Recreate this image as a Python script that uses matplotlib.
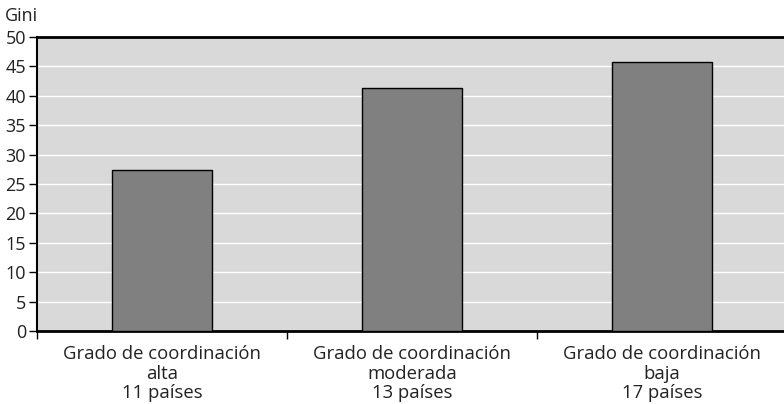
import matplotlib.pyplot as plt
from matplotlib.ticker import FixedLocator, MultipleLocator

categorias = ["Grado de coordinación\nalta\n11 países",
              "Grado de coordinación\nmoderada\n13 países",
              "Grado de coordinación\nbaja\n17 países"]
gini = [27.4, 41.4, 45.7]

plt.rcParams['font.family'] = ['Open Sans', 'DejaVu Sans']

fig = plt.figure(figsize=(7.84, 4.04), dpi=100)
# axes run slightly past the right edge of the canvas
ax = fig.add_axes([37 / 784, 1 - 331 / 404, 750 / 784, 294 / 404])

ax.set_facecolor('#d9d9d9')
ax.bar(range(len(gini)), gini, width=0.4, color='#808080',
       edgecolor='black', linewidth=1, zorder=3)

ax.set_xlim(-0.5, 2.5)
ax.set_ylim(0, 50)
ax.yaxis.set_major_locator(MultipleLocator(5))
ax.grid(axis='y', color='white', linewidth=1, zorder=1)

ax.xaxis.set_major_locator(FixedLocator([-0.5, 0.5, 1.5, 2.5]))
ax.xaxis.set_major_formatter(plt.NullFormatter())
ax.xaxis.set_minor_locator(FixedLocator(range(len(categorias))))
ax.set_xticklabels(categorias, minor=True, fontsize=13.3, linespacing=1.12,
                   color='#222222')
ax.tick_params(axis='x', which='major', length=6, width=1, direction='out')
ax.tick_params(axis='x', which='minor', length=0, pad=10)
ax.tick_params(axis='y', length=6, width=1, direction='out', labelsize=13,
               pad=2, labelcolor='#222222')

ax.spines['right'].set_visible(False)
ax.spines['top'].set_linewidth(2)
ax.spines['bottom'].set_linewidth(2)
ax.spines['left'].set_linewidth(1.5)

fig.text(5 / 784, 1 - 16 / 404, "Gini", fontsize=13, va='center', ha='left',
         color='#222222')

fig.savefig('out.png', dpi=100)
